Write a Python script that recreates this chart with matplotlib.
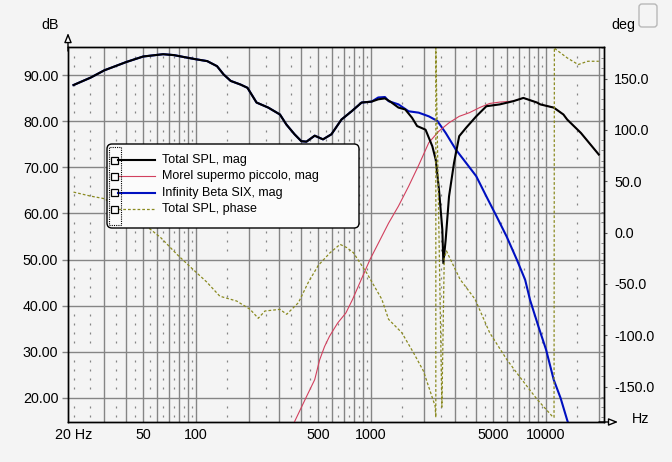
import matplotlib.pyplot as plt
import matplotlib.transforms as mtransforms
from matplotlib.patches import FancyBboxPatch, Rectangle
from matplotlib.lines import Line2D
import numpy as np

plt.rcParams['font.family'] = ['Liberation Sans', 'DejaVu Sans']

# ---------------- data
total_f = [20, 25, 30, 40, 50, 65, 75, 85, 100, 116, 132, 144, 158, 180, 197, 222, 259, 302,
           329, 366, 400, 428, 477, 532, 594, 678, 775, 884, 1008, 1100, 1202, 1300, 1435, 1568,
           1715, 1833, 2049, 2240, 2342, 2445, 2555, 2590, 2670, 2790, 2980, 3190, 3490, 3990,
           4560, 5440, 6500, 7420, 8870, 9260, 11060, 12560, 13200, 15800, 20000]
total_db = [87.9, 89.5, 91.1, 92.9, 94.1, 94.6, 94.4, 94.0, 93.5, 93.1, 92.0, 90.2, 88.8, 88.0,
            87.3, 84.1, 83.0, 81.5, 79.3, 77.2, 75.7, 75.6, 76.9, 76.1, 77.2, 80.4, 82.2, 84.1,
            84.3, 84.8, 85.0, 84.2, 83.0, 82.6, 80.8, 79.0, 78.2, 74.6, 71.7, 65.2, 56.5, 49.2,
            54.3, 63.7, 71.0, 76.8, 78.6, 81.1, 83.3, 83.7, 84.4, 85.1, 84.1, 83.7, 83.0, 81.5,
            80.4, 77.5, 72.8]

# woofer: runs under the total curve below 1 kHz
woofer_f = [20, 25, 30, 40, 50, 65, 75, 85, 100, 116, 132, 144, 158, 180, 197, 222, 259, 302,
            329, 366, 400, 428, 477, 532, 594, 678, 775, 884, 1008, 1100, 1202, 1260, 1435, 1640,
            1873, 2140, 2393, 2670, 3050, 3490, 3990, 4560, 5210, 5950, 6800, 7590, 8100, 9050,
            10000, 11050, 12100, 13200, 13500]
woofer_db = [87.9, 89.5, 91.1, 92.9, 94.1, 94.6, 94.4, 94.0, 93.5, 93.1, 92.0, 90.2, 88.8, 88.0,
             87.3, 84.1, 83.0, 81.5, 79.3, 77.2, 75.7, 75.6, 76.9, 76.1, 77.2, 80.4, 82.2, 84.1,
             84.3, 85.2, 85.3, 84.4, 83.7, 82.2, 81.9, 81.1, 80.1, 77.5, 73.9, 71.0, 68.1, 63.7,
             59.4, 55.0, 50.0, 45.6, 41.2, 35.4, 30.4, 23.9, 19.9, 15.1, 14.0]

# tweeter: runs under the total curve above 6.5 kHz
tweeter_f = [360, 428, 477, 509, 543, 579, 645, 719, 784, 987, 1100, 1260, 1435, 1640, 1873,
             2140, 2445, 2790, 3190, 3650, 4170, 4760, 5440, 6500, 7420, 8870, 9260, 11060,
             12560, 13200, 15800, 20000]
tweeter_db = [14.2, 20.2, 23.9, 28.2, 31.1, 33.3, 36.2, 38.4, 41.3, 50.0, 53.5, 57.9, 61.6, 65.9,
              70.5, 75.4, 77.9, 79.7, 81.1, 81.9, 83.0, 83.9, 84.2, 84.4, 85.1, 84.1, 83.7, 83.0,
              81.5, 80.4, 77.5, 72.8]

phase_f = [20, 25, 30, 40, 55, 63, 78, 95, 115, 137, 171, 204, 227, 248, 302, 330, 385, 440,
           500, 584, 666, 728, 793, 950, 1153, 1260, 1499, 1747, 1992, 2323, 2345, 2346, 2540,
           2620, 2700, 2767, 3228, 3932, 4760, 5950, 7010, 8870, 10800, 11100, 11150, 11400,
           13200, 15250, 17300, 20000]
phase_deg = [39.4, 35.5, 33.0, 20.0, 3.1, -5.0, -21.3, -35.0, -48.0, -62.0, -66.7, -74.8, -83.5,
             -76.4, -74.8, -79.6, -68.3, -48.0, -32.0, -19.6, -11.5, -14.7, -19.6, -40.0, -65.0,
             -84.5, -97.5, -116.9, -134.8, -168.9, -180.0, 180.0, -170.0, -25.0, -18.0, -22.0,
             -45.6, -65.0, -97.5, -123.4, -139.7, -162.3, -178.6, -180.0, 180.0, 178.2, 170.1,
             163.6, 166.8, 166.8]

labels = ["Total SPL, mag", "Morel supermo piccolo, mag", "Infinity Beta SIX, mag", "Total SPL, phase"]

xtick_vals = [20, 50, 100, 500, 1000, 5000, 10000]
xtick_text = ["20 Hz", "50", "100", "500", "1000", "5000", "10000"]

bg = "#f4f4f4"
grid_c = "#858585"
c_total = "black"
c_tweet = "#d2405e"
c_woof = "#0010c0"
c_phase = "#8a8a20"

W, H = 672, 462
fig = plt.figure(figsize=(W / 100, H / 100), dpi=100, facecolor=bg)
ax = fig.add_axes([68 / W, 1 - 422 / H, (604.3 - 68) / W, (422 - 47.3) / H])
ax.set_facecolor(bg)
ax.set_xscale("log")
ax.set_xlim(18.6, 21500)
ax.set_ylim(14.7, 96.1)

# grid: solid major, dotted minor
major_f = [m * 10 ** d for d in (1, 2, 3) for m in range(1, 10)] + [10000, 20000]
major_f = [f for f in major_f if f >= 30]
minor_f = [20, 25] + [m * 10 ** d for d in (1, 2, 3) for m in (3.5, 4.5, 5.5, 6.5, 7.5, 8.5, 9.5)] \
          + [150, 250, 1500, 2500, 15000]
minor_f = sorted(set(f for f in minor_f if f >= 20))
for f in major_f:
    ax.axvline(f, color=grid_c, lw=1, zorder=1)
for v in range(20, 100, 10):
    ax.axhline(v, color=grid_c, lw=1, zorder=1)
dot_db = [v for v in range(16, 96, 2) if v % 10]
for f in minor_f:
    ax.plot([f] * len(dot_db), dot_db, ls="none", marker="|", ms=1.8, mew=0.9, color=grid_c, zorder=1)

ax.plot(woofer_f, woofer_db, color=c_woof, lw=1.5, zorder=3)
ax.plot(tweeter_f, tweeter_db, color=c_tweet, lw=0.8, zorder=3)
ax.plot(total_f, total_db, color=c_total, lw=1.5, zorder=4)

ax2 = ax.twinx()
ax2.set_ylim(-184.5, 180.4)
ax2.plot(phase_f, phase_deg, color=c_phase, lw=0.9, ls=(0, (2.2, 1.6)), zorder=2)

ax.set_xticks(xtick_vals)
ax.set_xticklabels(xtick_text)
ax.xaxis.set_minor_locator(plt.NullLocator())
ax.tick_params(axis="x", length=0, pad=4, labelsize=10.3)
ax.set_yticks(range(20, 100, 10))
ax.set_yticklabels(["%.2f" % v for v in range(20, 100, 10)])
ax.tick_params(axis="y", length=4, width=1, pad=3, labelsize=10.3, color=grid_c)
ax2.set_yticks(range(-150, 151, 50))
ax2.set_yticklabels(["%.1f" % v for v in range(-150, 151, 50)])
ax2.set_yticks(range(-180, 181, 10), minor=True)
ax2.tick_params(axis="y", which="major", length=2, pad=5, labelsize=10.3, color="#555555")
ax2.tick_params(axis="y", which="minor", length=2, direction="in", color="#777777")
for a in (ax, ax2):
    for s in a.spines.values():
        s.set_color("black")
        s.set_linewidth(1)

# axis arrows
arrow = dict(arrowstyle="-|>,head_length=0.55,head_width=0.22", fc="white", ec="black", lw=1,
             shrinkA=0, shrinkB=0)
ax.annotate("", xy=(0, 1.038), xytext=(0, 0.99), xycoords="axes fraction", arrowprops=arrow,
            annotation_clip=False)
ax.annotate("", xy=(1.0256, 0), xytext=(0.99, 0), xycoords="axes fraction", arrowprops=arrow,
            annotation_clip=False)

fig.text(50 / W, 1 - 25 / H, "dB", ha="center", va="center", fontsize=10.3)
fig.text(623 / W, 1 - 25 / H, "deg", ha="center", va="center", fontsize=10.3)
fig.text(641 / W, 1 - 419 / H, "Hz", ha="center", va="center", fontsize=10.3)

# legend box, drawn in pixel coordinates
px = mtransforms.IdentityTransform()
def py(y):
    return H - y
fig.patches.append(FancyBboxPatch((107, py(228)), 252, 84, boxstyle="round,pad=0,rounding_size=5",
                                  transform=px, fc="#fbfbfb", ec="black", lw=1, zorder=10))
fig.patches.append(Rectangle((108.5, py(225)), 12, 78, transform=px, fill=False, ec="black",
                             lw=0.8, ls=(0, (1, 1)), zorder=11))
styles = [(c_total, 1.5, "-"), (c_tweet, 0.8, "-"), (c_woof, 1.5, "-"), (c_phase, 0.9, (0, (2.2, 1.6)))]
rows = [160, 176.3, 192.7, 209]
for yr, (c, lw, ls), lab in zip(rows, styles, labels):
    fig.patches.append(Rectangle((110.5, py(yr) - 3.5), 7, 7, transform=px, fill=False, ec="black",
                                 lw=0.9, zorder=11))
    fig.lines.append(Line2D([118, 155], [py(yr), py(yr)], transform=px, color=c, lw=lw, ls=ls, zorder=11))
    fig.text(161.5 / W, 1 - yr / H, lab, ha="left", va="center", fontsize=9, zorder=12)

# small rounded box in the top right corner
fig.patches.append(FancyBboxPatch((639, py(27)), 18, 23, boxstyle="round,pad=0,rounding_size=3",
                                  transform=px, fc="none", ec="#b8b8b8", lw=1))

fig.savefig("out.png", dpi=100, facecolor=bg)
